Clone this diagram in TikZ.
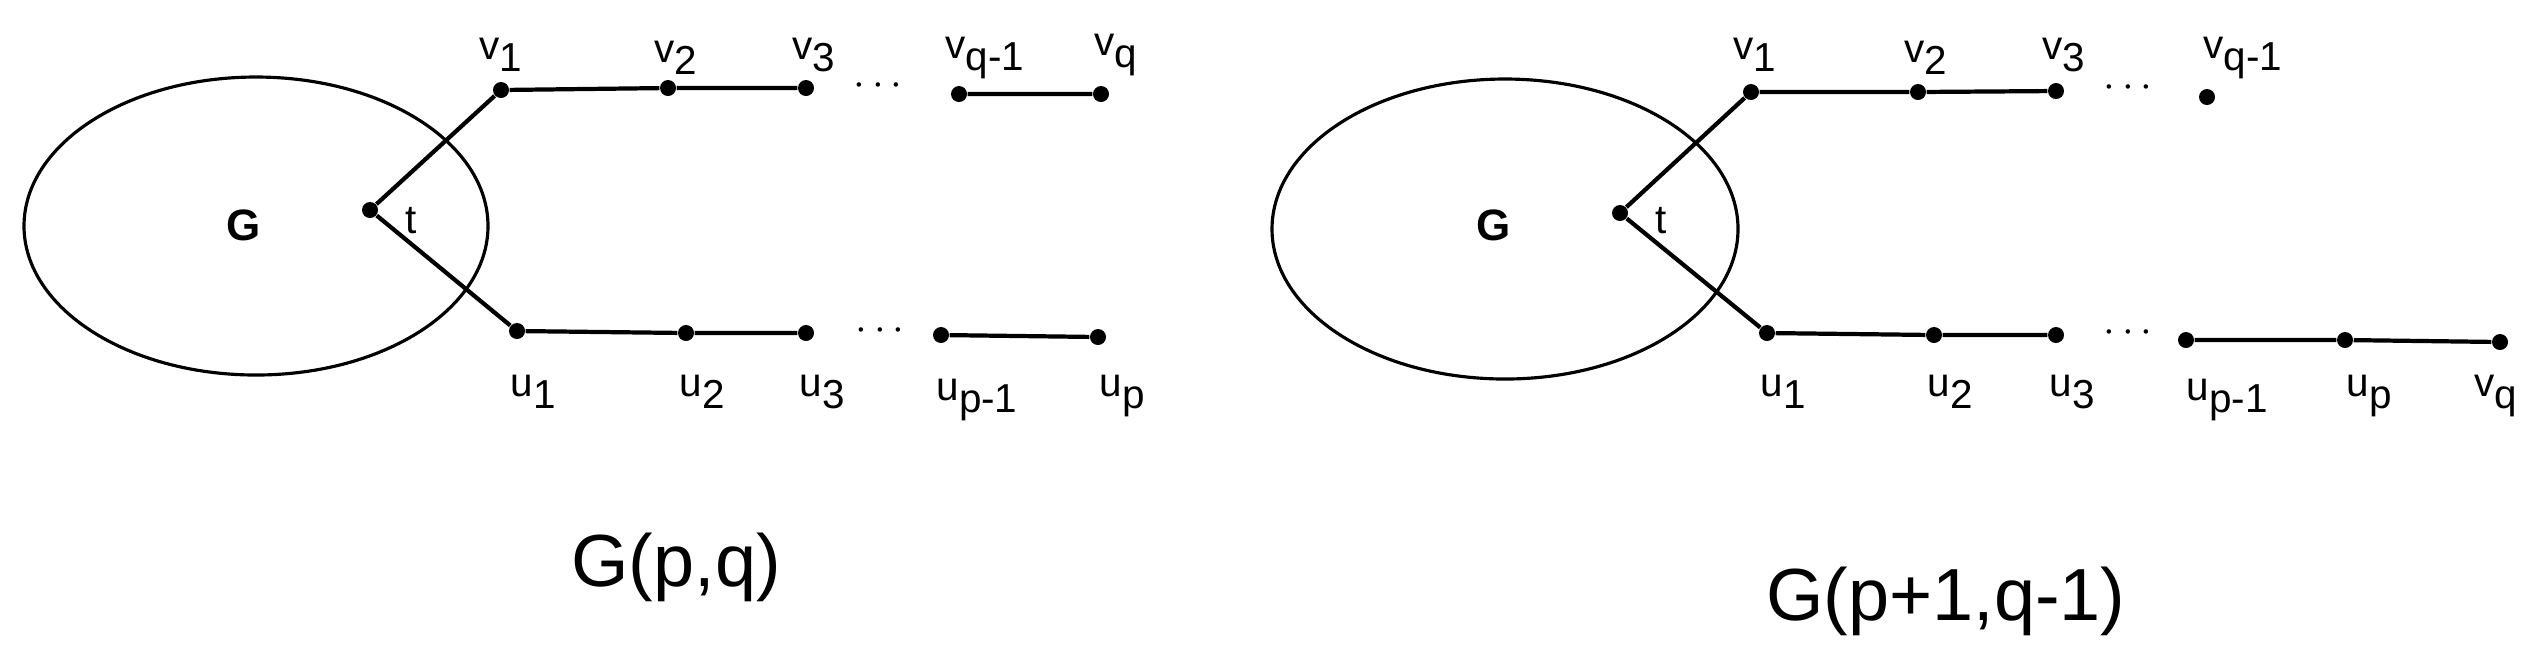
\documentclass[tikz,border=0pt]{standalone}
\usepackage{fontspec}
\setmainfont{Liberation Sans}
\newcommand\lb[2]{#1\raisebox{-0.55ex}{#2}}
\begin{document}
\begin{tikzpicture}[x=0.01cm,y=-0.01cm,
  vx/.style={circle,fill=black,inner sep=0pt,minimum size=0.16cm},
  lab/.style={font=\fontsize{11.5}{12}\selectfont},
  edge/.style={line width=1.2pt},
  captxt/.style={font=\fontsize{21}{24}\selectfont}]
\useasboundingbox (0,0) rectangle (2525,647);
% left panel
\draw[line width=0.9pt] (256,226) ellipse [x radius=232,y radius=149];
\node[font=\bfseries\fontsize{12.5}{14}\selectfont] (gL) at (244,225) {G};
\node[vx] (tL) at (370,210) {};
\node[vx] (a1) at (501,90) {};
\node[vx] (a2) at (668,88) {};
\node[vx] (a3) at (806,88) {};
\node[vx] (a4) at (959,94) {};
\node[vx] (a5) at (1101,94) {};
\node[vx] (b1) at (517,331) {};
\node[vx] (b2) at (686,333) {};
\node[vx] (b3) at (806,333) {};
\node[vx] (b4) at (941,335) {};
\node[vx] (b5) at (1098,337) {};
\draw[edge] (tL)--(a1)--(a2)--(a3) (a4)--(a5);
\draw[edge] (tL)--(b1)--(b2)--(b3) (b4)--(b5);
\node[lab] (dA) at (878,86) {$\cdots$};
\node[lab] (dB) at (880,331) {$\cdots$};
\node[lab] (lt) at (411,221) {t};
\node[lab] (la1) at (501,55) {\lb{v}{1}};
\node[lab] (la2) at (676,58) {\lb{v}{2}};
\node[lab] (la3) at (814,55) {\lb{v}{3}};
\node[lab] (la4) at (985,58) {\lb{v}{q-1}};
\node[lab] (la5) at (1116,55) {\lb{v}{q}};
\node[lab] (lb1) at (533,392) {\lb{u}{1}};
\node[lab] (lb2) at (702,392) {\lb{u}{2}};
\node[lab] (lb3) at (822,392) {\lb{u}{3}};
\node[lab] (lb4) at (977,400) {\lb{u}{p-1}};
\node[lab] (lb5) at (1122,396) {\lb{u}{p}};
\node[captxt] (capL) at (676,567) {G(p,q)};
% right panel
\draw[line width=0.9pt] (1505,229) ellipse [x radius=233,y radius=150];
\node[font=\bfseries\fontsize{12.5}{14}\selectfont] (gR) at (1494,225) {G};
\node[vx] (tR) at (1620,213) {};
\node[vx] (c1) at (1751,92) {};
\node[vx] (c2) at (1918,92) {};
\node[vx] (c3) at (2056,91) {};
\node[vx] (c4) at (2207,97) {};
\node[vx] (d1) at (1767,333) {};
\node[vx] (d2) at (1934,335) {};
\node[vx] (d3) at (2056,335) {};
\node[vx] (d4) at (2186,340) {};
\node[vx] (d5) at (2345,340) {};
\node[vx] (d6) at (2500,342) {};
\draw[edge] (tR)--(c1)--(c2)--(c3);
\draw[edge] (tR)--(d1)--(d2)--(d3) (d4)--(d5)--(d6);
\node[lab] (dC) at (2128,88) {$\cdots$};
\node[lab] (dD) at (2128,333) {$\cdots$};
\node[lab] (lt2) at (1661,221) {t};
\node[lab] (lc1) at (1755,55) {\lb{v}{1}};
\node[lab] (lc2) at (1926,58) {\lb{v}{2}};
\node[lab] (lc3) at (2064,55) {\lb{v}{3}};
\node[lab] (lc4) at (2243,58) {\lb{v}{q-1}};
\node[lab] (ld1) at (1783,392) {\lb{u}{1}};
\node[lab] (ld2) at (1950,392) {\lb{u}{2}};
\node[lab] (ld3) at (2072,392) {\lb{u}{3}};
\node[lab] (ld4) at (2227,400) {\lb{u}{p-1}};
\node[lab] (ld5) at (2369,396) {\lb{u}{p}};
\node[lab] (ld6) at (2496,396) {\lb{v}{q}};
\node[captxt] (capR) at (1946,601) {G(p+1,q-1)};
\end{tikzpicture}
\end{document}
